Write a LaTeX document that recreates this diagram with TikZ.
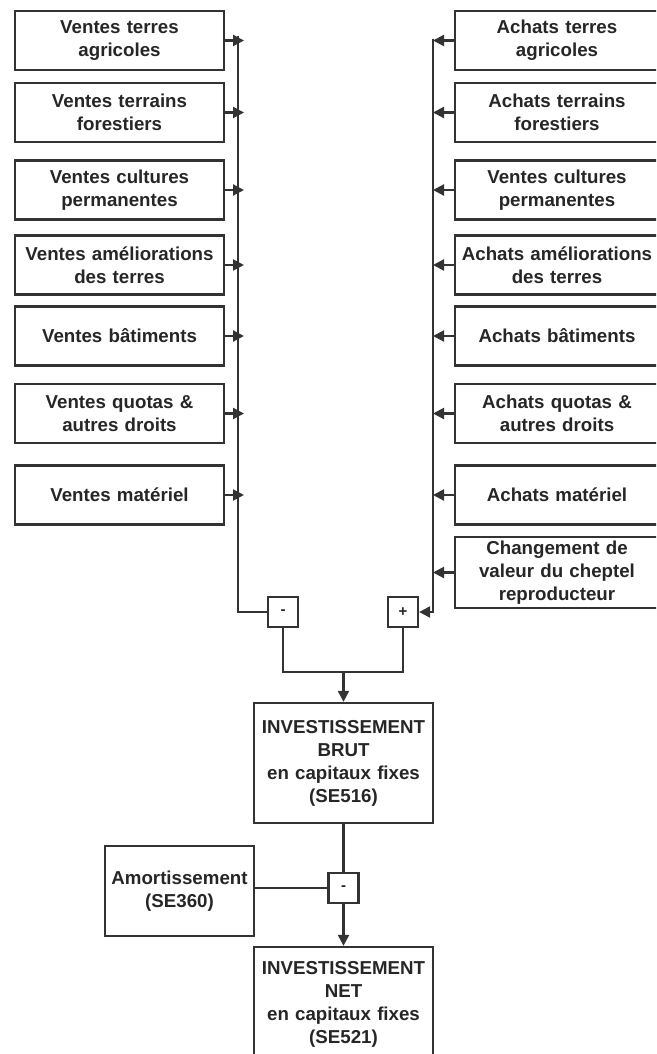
\documentclass[tikz,border=0pt]{standalone}
\usepackage{fontspec}
\setmainfont{Liberation Sans}
\usetikzlibrary{arrows.meta}
\begin{document}
\begin{tikzpicture}[x=1pt,y=-1pt,
    boite/.style={draw=black!80,line width=2.3pt,fill=white,inner sep=0pt,align=center,
      text=black!85,font=\bfseries\fontsize{18.7}{23}\selectfont},
    gauche/.style={boite,text width=209pt,minimum height=59pt},
    droite/.style={boite,text width=204pt,minimum height=59pt},
    signe/.style={draw=black!80,line width=2.2pt,fill=white,minimum size=30pt,inner sep=0pt,
      text=black!85,font=\bfseries\fontsize{15}{15}\selectfont},
    lien/.style={draw=black!80,line width=2.1pt},
    fleche/.style={lien,-{Triangle[length=11pt,width=11pt]}}]
    \useasboundingbox (0,0) rectangle (656,1054);
    \clip (0,0) rectangle (656,1054);

    % ventes
    \node[gauche] (vt1) at (119.5,40.5) {Ventes terres\\agricoles};
    \node[gauche] (vt2) at (119.5,112.5) {Ventes terrains\\forestiers};
    \node[gauche] (vt3) at (119.5,190) {Ventes cultures\\permanentes};
    \node[gauche] (vt4) at (119.5,265) {Ventes améliorations\\des terres};
    \node[gauche] (vt5) at (119.5,336) {Ventes bâtiments};
    \node[gauche] (vt6) at (119.5,413.5) {Ventes quotas \&\\autres droits};
    \node[gauche] (vt7) at (119.5,495) {Ventes matériel};

    % achats
    \node[droite] (ac1) at (557,40.5) {Achats terres\\agricoles};
    \node[droite] (ac2) at (557,112.5) {Achats terrains\\forestiers};
    \node[droite] (ac3) at (557,190) {Ventes cultures\\permanentes};
    \node[droite] (ac4) at (557,265) {Achats améliorations\\des terres};
    \node[droite] (ac5) at (557,336) {Achats bâtiments};
    \node[droite] (ac6) at (557,413.5) {Achats quotas \&\\autres droits};
    \node[droite] (ac7) at (557,495) {Achats matériel};
    \node[droite,minimum height=71pt] (ac8) at (557,572.5) {Changement de\\valeur du cheptel\\reproducteur};

    \node[signe] (moins) at (283,612) {-};
    \node[signe] (plus) at (403,612) {+};

    \node[boite,text width=179pt,minimum height=120pt] (brut) at (343.5,763)
        {INVESTISSEMENT\\BRUT\\en capitaux fixes\\(SE516)};
    \node[boite,text width=149pt,minimum height=90pt] (amort) at (179.5,891)
        {Amortissement\\(SE360)};
    \node[signe] (moins2) at (343.5,888) {-};
    \node[boite,text width=179pt,minimum height=114pt] (net) at (343.5,1004)
        {INVESTISSEMENT\\NET\\en capitaux fixes\\(SE521)};

    \coordinate (hautG) at (238,36);
    \coordinate (hautD) at (433,39);
    \coordinate (jonction) at (343.5,672);

    \draw[lien] (hautG) -- (hautG |- moins) -- (moins.west);
    \draw[fleche] (hautD) -- (hautD |- plus) -- (plus.east);

    \draw[fleche,shorten >=-6pt] (vt1.east) -- (vt1.east -| hautG);
    \draw[fleche,shorten >=-6pt] (vt2.east) -- (vt2.east -| hautG);
    \draw[fleche,shorten >=-6pt] (vt3.east) -- (vt3.east -| hautG);
    \draw[fleche,shorten >=-6pt] (vt4.east) -- (vt4.east -| hautG);
    \draw[fleche,shorten >=-6pt] (vt5.east) -- (vt5.east -| hautG);
    \draw[fleche,shorten >=-6pt] (vt6.east) -- (vt6.east -| hautG);
    \draw[fleche,shorten >=-6pt] (vt7.east) -- (vt7.east -| hautG);

    \draw[fleche] (ac1.west) -- (ac1.west -| hautD);
    \draw[fleche] (ac2.west) -- (ac2.west -| hautD);
    \draw[fleche] (ac3.west) -- (ac3.west -| hautD);
    \draw[fleche] (ac4.west) -- (ac4.west -| hautD);
    \draw[fleche] (ac5.west) -- (ac5.west -| hautD);
    \draw[fleche] (ac6.west) -- (ac6.west -| hautD);
    \draw[fleche] (ac7.west) -- (ac7.west -| hautD);
    \draw[fleche] (ac8.west) -- (ac8.west -| hautD);

    \draw[lien] (moins.south) |- (jonction) -| (plus.south);
    \draw[fleche] (jonction) -- (brut.north);
    \draw[lien] (brut.south) -- (moins2.north);
    \draw[lien] (moins2.west -| amort.east) -- (moins2.west);
    \draw[fleche] (moins2.south) -- (net.north);
\end{tikzpicture}
\end{document}
